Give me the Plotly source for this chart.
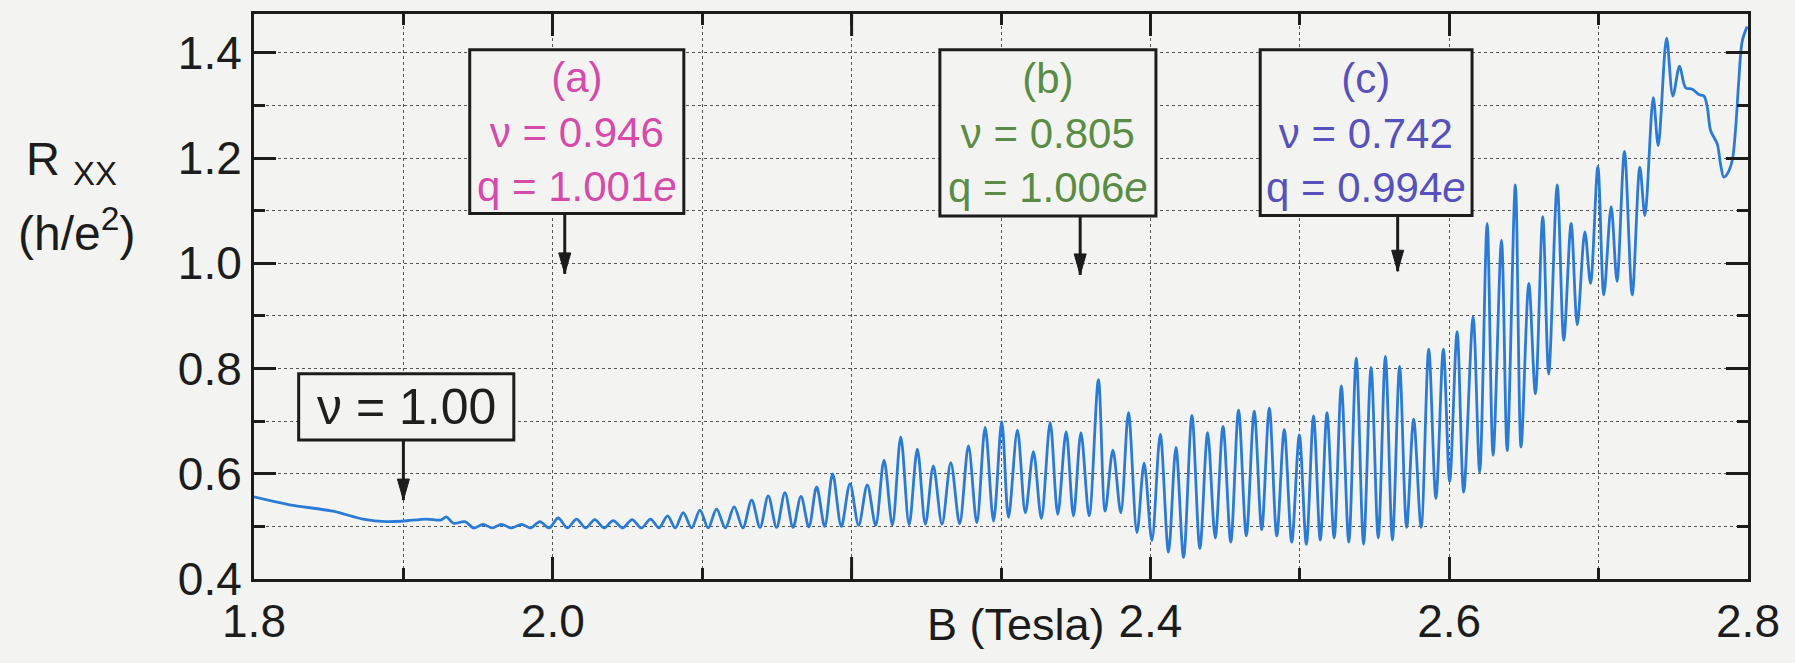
import plotly.graph_objects as go

# Magnetic field B (Tesla) at successive turning points of the R_xx trace
B_tesla = [
    1.8000, 1.8238, 1.8528, 1.8729, 1.8886, 1.8997, 1.9154, 1.9250, 1.9288, 1.9335,
    1.9411, 1.9472, 1.9533, 1.9595, 1.9656, 1.9723, 1.9790, 1.9852, 1.9913, 1.9975,
    2.0036, 2.0098, 2.0159, 2.0220, 2.0281, 2.0343, 2.0404, 2.0468, 2.0531, 2.0593,
    2.0654, 2.0711, 2.0768, 2.0820, 2.0873, 2.0929, 2.0985, 2.1040, 2.1096, 2.1155,
    2.1214, 2.1272, 2.1331, 2.1387, 2.1442, 2.1498, 2.1554, 2.1608, 2.1661, 2.1714,
    2.1766, 2.1820, 2.1873, 2.1931, 2.1989, 2.2047, 2.2105, 2.2161, 2.2217, 2.2273,
    2.2329, 2.2385, 2.2440, 2.2494, 2.2547, 2.2605, 2.2664, 2.2723, 2.2782, 2.2838,
    2.2894, 2.2950, 2.3005, 2.3050, 2.3110, 2.3163, 2.3217, 2.3270, 2.3329, 2.3380,
    2.3436, 2.3485, 2.3535, 2.3590, 2.3652, 2.3697, 2.3749, 2.3802, 2.3853, 2.3910,
    2.3958, 2.4010, 2.4066, 2.4121, 2.4171, 2.4222, 2.4278, 2.4331, 2.4383, 2.4434,
    2.4486, 2.4538, 2.4590, 2.4642, 2.4695, 2.4745, 2.4796, 2.4846, 2.4896, 2.4946,
    2.4997, 2.5044, 2.5092, 2.5137, 2.5182, 2.5230, 2.5278, 2.5328, 2.5378, 2.5427,
    2.5477, 2.5525, 2.5573, 2.5620, 2.5668, 2.5715, 2.5762, 2.5812, 2.5863, 2.5911,
    2.5961, 2.6003, 2.6053, 2.6097, 2.6160, 2.6204, 2.6254, 2.6294, 2.6350, 2.6388,
    2.6443, 2.6481, 2.6533, 2.6577, 2.6626, 2.6666, 2.6723, 2.6767, 2.6816, 2.6857,
    2.6908, 2.6946, 2.6995, 2.7035, 2.7084, 2.7123, 2.7173, 2.7225, 2.7276, 2.7310,
    2.7366, 2.7399, 2.7455, 2.7497, 2.7542, 2.7582, 2.7627, 2.7671, 2.7705, 2.7728,
    2.7750, 2.7794, 2.7816, 2.7838, 2.7861, 2.7894, 2.7916, 2.7938, 2.7961, 2.7994,
]

# Longitudinal resistance R_xx in units of h/e^2
R_xx = [
    0.556, 0.541, 0.529, 0.514, 0.509, 0.510, 0.514, 0.512, 0.518, 0.506,
    0.509, 0.497, 0.504, 0.497, 0.504, 0.497, 0.504, 0.497, 0.509, 0.497,
    0.516, 0.497, 0.514, 0.497, 0.513, 0.497, 0.511, 0.497, 0.513, 0.497,
    0.514, 0.497, 0.520, 0.497, 0.526, 0.497, 0.531, 0.497, 0.533, 0.497,
    0.537, 0.497, 0.550, 0.498, 0.558, 0.498, 0.564, 0.498, 0.557, 0.499,
    0.575, 0.500, 0.600, 0.500, 0.581, 0.502, 0.579, 0.502, 0.626, 0.503,
    0.670, 0.503, 0.647, 0.504, 0.615, 0.504, 0.621, 0.505, 0.653, 0.507,
    0.688, 0.510, 0.699, 0.517, 0.683, 0.526, 0.642, 0.515, 0.697, 0.523,
    0.680, 0.520, 0.678, 0.520, 0.779, 0.529, 0.645, 0.526, 0.716, 0.488,
    0.620, 0.473, 0.675, 0.451, 0.650, 0.441, 0.711, 0.458, 0.678, 0.478,
    0.690, 0.470, 0.721, 0.482, 0.719, 0.494, 0.725, 0.482, 0.684, 0.470,
    0.674, 0.466, 0.710, 0.474, 0.716, 0.478, 0.767, 0.470, 0.820, 0.466,
    0.802, 0.478, 0.823, 0.474, 0.804, 0.498, 0.704, 0.498, 0.837, 0.553,
    0.837, 0.585, 0.870, 0.565, 0.898, 0.603, 1.076, 0.635, 1.044, 0.644,
    1.149, 0.651, 0.962, 0.752, 1.089, 0.790, 1.149, 0.854, 1.076, 0.883,
    1.060, 0.962, 1.184, 0.940, 1.108, 0.966, 1.213, 0.940, 1.183, 1.091,
    1.315, 1.224, 1.428, 1.318, 1.375, 1.334, 1.331, 1.321, 1.318, 1.296,
    1.252, 1.227, 1.189, 1.164, 1.170, 1.195, 1.252, 1.346, 1.422, 1.450,
]

# Axis ticks (the 2.2 position carries the axis title instead of a number)
x_tickvals = [1.8, 2.0, 2.4, 2.6, 2.8]
x_ticktext = ["1.8", "2.0", "2.4", "2.6", "2.8"]
x_unlabelled_major = [2.2]
x_minorvals = [1.9, 2.1, 2.2, 2.3, 2.5, 2.7]
y_tickvals = [0.4, 0.6, 0.8, 1.0, 1.2, 1.4]
y_ticktext = ["0.4", "0.6", "0.8", "1.0", "1.2", "1.4"]
y_minorvals = [0.5, 0.7, 0.9, 1.1, 1.3]

# Filling-factor call-outs: text and the field / resistance each arrow points at
callout_text = [
    "ν = 1.00",
    "(a)<br>ν = 0.946<br>q = 1.001<i>e</i>",
    "(b)<br>ν = 0.805<br>q = 1.006<i>e</i>",
    "(c)<br>ν = 0.742<br>q = 0.994<i>e</i>",
]
callout_B = [1.900, 2.008, 2.353, 2.5655]
callout_R = [0.550, 0.980, 0.978, 0.985]

# Call-out styling and box placement (data units)
callout_color = ["#1e1e1e", "#d64aab", "#5a8c45", "#5751bd"]
callout_size = [50, 42, 42, 42]
box_x0 = [1.8299, 1.9444, 2.2591, 2.4735]
box_x1 = [1.9739, 2.0877, 2.4037, 2.6153]
box_y0 = [0.664, 1.095, 1.090, 1.091]
box_y1 = [0.790, 1.406, 1.406, 1.406]

BG = "#f3f4f2"
INK = "#1c1c1c"
GRID = "#555555"
FONT = "Liberation Sans, Arial, sans-serif"

fig = go.Figure()
fig.add_trace(go.Scatter(
    x=B_tesla, y=R_xx, mode="lines",
    line=dict(color="#2b7bd6", width=2.8, shape="spline", smoothing=0.9),
    hoverinfo="skip", showlegend=False,
))

shapes = []
annotations = []
for i, txt in enumerate(callout_text):
    shapes.append(dict(
        type="rect", xref="x", yref="y",
        x0=box_x0[i], x1=box_x1[i], y0=box_y0[i], y1=box_y1[i],
        line=dict(color=INK, width=3), fillcolor=BG, layer="above",
    ))
    # arrow shaft from the box down to the point of interest
    shapes.append(dict(
        type="line", xref="x", yref="y",
        x0=callout_B[i], x1=callout_B[i], y0=box_y0[i], y1=callout_R[i],
        line=dict(color=INK, width=3), layer="above",
    ))
    # arrow head, sized in pixels and anchored at the tip
    shapes.append(dict(
        type="path", xref="x", yref="y",
        xsizemode="pixel", ysizemode="pixel",
        xanchor=callout_B[i], yanchor=callout_R[i],
        path="M-6,21 L6,21 L0,0 Z",
        fillcolor=INK, line=dict(color=INK, width=1), layer="above",
    ))
    annotations.append(dict(
        xref="x", yref="y",
        x=(box_x0[i] + box_x1[i]) / 2, y=(box_y0[i] + box_y1[i]) / 2,
        text=txt, showarrow=False, align="center",
        xanchor="center", yanchor="middle",
        font=dict(family=FONT, size=callout_size[i], color=callout_color[i]),
    ))

# long tick marks at the unlabelled major position, bottom and top
for xv in x_unlabelled_major:
    shapes.append(dict(type="line", xref="x", yref="y domain",
                       x0=xv, x1=xv, y0=0, y1=22 / 565,
                       line=dict(color=INK, width=3), layer="above"))
    shapes.append(dict(type="line", xref="x", yref="y domain",
                       x0=xv, x1=xv, y0=1 - 22 / 565, y1=1,
                       line=dict(color=INK, width=3), layer="above"))

# axis titles
annotations.append(dict(
    xref="paper", yref="paper", x=-0.122, y=0.738,
    text="R <sub>XX</sub>", showarrow=False, xanchor="center", yanchor="middle",
    font=dict(family=FONT, size=47, color=INK),
))
annotations.append(dict(
    xref="paper", yref="paper", x=-0.119, y=0.618,
    text="(h/e<sup>2</sup>)", showarrow=False, xanchor="center", yanchor="middle",
    font=dict(family=FONT, size=48, color=INK),
))
annotations.append(dict(
    xref="paper", yref="paper", x=0.510, y=-0.081,
    text="B (Tesla)", showarrow=False, xanchor="center", yanchor="middle",
    font=dict(family=FONT, size=45, color=INK),
))

axis_common = dict(
    showline=True, linewidth=3, linecolor=INK, mirror="allticks",
    ticks="inside", ticklen=22, tickwidth=3, tickcolor=INK,
    showgrid=True, gridcolor=GRID, gridwidth=1.3, griddash="dot",
    zeroline=False, tickfont=dict(family=FONT, size=46, color=INK),
)

fig.update_layout(
    width=1795, height=663,
    margin=dict(l=254, r=47, t=14, b=84),
    paper_bgcolor=BG, plot_bgcolor=BG,
    font=dict(family=FONT, color=INK),
    shapes=shapes, annotations=annotations,
    xaxis=dict(
        range=[1.8, 2.8], tickmode="array",
        tickvals=x_tickvals, ticktext=x_ticktext,
        minor=dict(tickmode="array", tickvals=x_minorvals, ticks="inside",
                   ticklen=11, tickwidth=3, tickcolor=INK, showgrid=True,
                   gridcolor=GRID, gridwidth=1.3, griddash="dot"),
        **axis_common,
    ),
    yaxis=dict(
        range=[0.4, 1.474], tickmode="array",
        tickvals=y_tickvals, ticktext=y_ticktext,
        minor=dict(tickmode="array", tickvals=y_minorvals, ticks="inside",
                   ticklen=11, tickwidth=3, tickcolor=INK, showgrid=True,
                   gridcolor=GRID, gridwidth=1.3, griddash="dot"),
        **axis_common,
    ),
)

fig.write_html("out.html")
